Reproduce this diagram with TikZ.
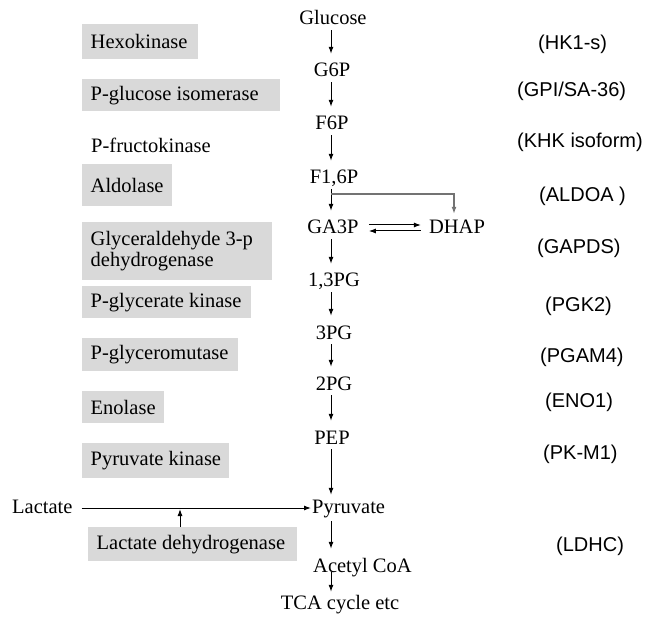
\documentclass[tikz,border=0pt]{standalone}
\usepackage{fontspec}
\setmainfont{Liberation Serif}
\newfontfamily\arialf{Liberation Sans}
\usetikzlibrary{arrows.meta}
\definecolor{boxgray}{RGB}{217,217,217}
\definecolor{linegray}{RGB}{115,115,115}
\newcommand{\boxtxt}[2]{\makebox[#1pt][l]{#2}}
\begin{document}
\begin{tikzpicture}[x=1pt,y=-1pt,
  enz/.style={fill=boxgray, anchor=north west, inner xsep=8.5pt, inner ysep=0pt, align=left, font=\fontsize{20.5}{24}\selectfont},
  plain/.style={anchor=west, inner sep=0pt, font=\fontsize{20.5}{24}\selectfont},
  met/.style={inner sep=1pt, text height=14pt, text depth=4pt, font=\fontsize{20.5}{24}\selectfont},
  gene/.style={anchor=west, inner sep=0pt, font=\arialf\fontsize{20}{24}\selectfont},
  arr/.style={line width=1pt, -{Latex[length=7pt,width=5pt]}},
  ]
\useasboundingbox (0,0) rectangle (650,617);

% enzyme boxes
\node[enz, minimum width=116pt, minimum height=35pt] (hk) at (82,24) {\boxtxt{99}{Hexokinase}};
\node[enz, minimum width=198pt, minimum height=32pt] (gpi) at (82,79) {\boxtxt{181}{P-glucose isomerase}};
\node[plain] (pfk) at (91,145) {P-fructokinase};
\node[enz, minimum width=90pt, minimum height=42pt] (ald) at (82,164) {\boxtxt{73}{Aldolase}};
\node[enz, minimum width=190pt, minimum height=58pt] (gapdh) at (82,222) {\boxtxt{173}{\begin{tabular}{@{}l@{}}Glyceraldehyde 3-p\\[-3pt] dehydrogenase\end{tabular}}};
\node[enz, minimum width=169pt, minimum height=32pt] (pgk) at (82,286) {\boxtxt{152}{P-glycerate kinase}};
\node[enz, minimum width=156pt, minimum height=33pt] (pgm) at (82,338) {\boxtxt{139}{P-glyceromutase}};
\node[enz, minimum width=82pt, minimum height=32pt] (eno) at (82,391) {\boxtxt{65}{Enolase}};
\node[enz, minimum width=147pt, minimum height=35pt] (pk) at (82,443) {\boxtxt{130}{Pyruvate kinase}};
\node[enz, minimum width=209pt, minimum height=34pt] (ldh) at (88,527) {\boxtxt{192}{Lactate dehydrogenase}};

% metabolites
\node[met] (glc) at (333,20) {Glucose};
\node[met] (g6p) at (332,72) {G6P};
\node[met] (f6p) at (332,125) {F6P};
\node[met] (f16p) at (334,179) {F1,6P};
\node[met] (ga3p) at (333,229) {GA3P};
\node[met] (dhap) at (457,229) {DHAP};
\node[met] (bpg) at (334,282) {1,3PG};
\node[met] (pg3) at (334,334) {3PG};
\node[met] (pg2) at (334,385) {2PG};
\node[met] (pep) at (332,439) {PEP};
\node[met, anchor=west] (pyr) at (311,508) {Pyruvate};
\node[met, anchor=west] (acoa) at (312,567) {Acetyl CoA};
\node[met] (tca) at (340,604) {TCA cycle etc};
\node[met, anchor=west] (lac) at (11,508) {Lactate};

% gene labels
\node[gene] (g1) at (538,44) {(HK1-s)};
\node[gene] (g2) at (517,91) {(GPI/SA-36)};
\node[gene] (g3) at (517,142) {(KHK isoform)};
\node[gene] (g4) at (539,196) {(ALDOA )};
\node[gene] (g5) at (537,248) {(GAPDS)};
\node[gene] (g6) at (545,306) {(PGK2)};
\node[gene] (g7) at (540,357) {(PGAM4)};
\node[gene] (g8) at (545,402) {(ENO1)};
\node[gene] (g9) at (543,454) {(PK-M1)};
\node[gene] (g10) at (556,546) {(LDHC)};

% main chain arrows
\coordinate (ax) at (331,0);
\draw[arr, shorten >=8pt] (glc.south -| ax) -- (g6p.north -| ax);
\draw[arr, shorten >=8pt] (g6p.south -| ax) -- (f6p.north -| ax);
\draw[arr, shorten >=8pt] (f6p.south -| ax) -- (f16p.north -| ax);
\draw[arr, shorten >=8pt] (f16p.south -| ax) -- (ga3p.north -| ax);
\draw[arr, shorten >=8pt] (ga3p.south -| ax) -- (bpg.north -| ax);
\draw[arr, shorten >=8pt] (bpg.south -| ax) -- (pg3.north -| ax);
\draw[arr, shorten >=8pt] (pg3.south -| ax) -- (pg2.north -| ax);
\draw[arr, shorten >=8pt] (pg2.south -| ax) -- (pep.north -| ax);
\draw[arr, shorten >=3pt] (pep.south -| ax) -- (pyr.north -| ax);
\draw[arr, shorten >=8pt, shorten <=3pt] (pyr.south -| ax) -- (acoa.north -| ax);
\draw[arr, shorten >=2pt, shorten <=-5pt] (acoa.south -| ax) -- (tca.north -| ax);

% branch F1,6P -> DHAP
\coordinate (br) at (331,194);
\draw[arr, draw=linegray, line width=1.3pt, shorten >=5pt] (br) -| ([xshift=-3pt]dhap.north);

% GA3P <-> DHAP
\draw[arr] ([xshift=9pt,yshift=4pt]ga3p.east) -- ([xshift=-7pt,yshift=4pt]dhap.west);
\draw[arr] ([xshift=-7pt,yshift=-2pt]dhap.west) -- ([xshift=9pt,yshift=-2pt]ga3p.east);

% lactate -> pyruvate
\draw[arr, shorten <=8pt] (lac.east) -- (pyr.west);
\coordinate (lm) at (180,508);
\draw[arr, shorten >=1pt] (ldh.north -| lm) -- (lm);
\end{tikzpicture}
\end{document}
